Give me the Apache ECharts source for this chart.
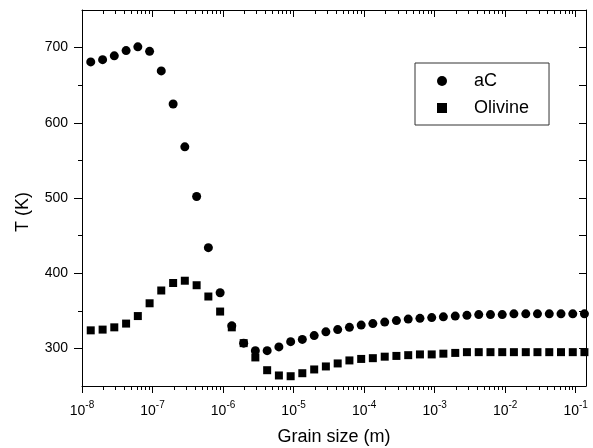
<!DOCTYPE html>
<html>
<head>
<meta charset="utf-8">
<script src="https://cdn.jsdelivr.net/npm/echarts@6/dist/echarts.min.js"></script>
<style>html,body{margin:0;padding:0;background:#fff}#c{width:593px;height:448px}</style>
</head>
<body>
<div id="c"></div>
<script>
// Grain size (m)
var grainSize = [
  1.33e-8, 1.96e-8, 2.87e-8, 4.22e-8, 6.19e-8, 9.09e-8,
  1.33e-7, 1.96e-7, 2.87e-7, 4.22e-7, 6.19e-7, 9.09e-7,
  1.33e-6, 1.96e-6, 2.87e-6, 4.22e-6, 6.19e-6, 9.09e-6,
  1.33e-5, 1.96e-5, 2.87e-5, 4.22e-5, 6.19e-5, 9.09e-5,
  1.33e-4, 1.96e-4, 2.87e-4, 4.22e-4, 6.19e-4, 9.09e-4,
  1.33e-3, 1.96e-3, 2.87e-3, 4.22e-3, 6.19e-3, 9.09e-3,
  1.33e-2, 1.96e-2, 2.87e-2, 4.22e-2, 6.19e-2, 9.09e-2,
  1.33e-1
];
// T (K)
var tempAC = [681, 684, 689, 696, 701, 695, 669, 625, 568, 502, 434, 374, 330, 307, 297, 297, 302, 309, 312, 317,
  322, 325, 328, 331, 333, 335, 337, 339, 340, 341, 342, 343, 344, 345, 345, 345, 346, 346, 346, 346, 346, 346, 346];
var tempOlivine = [324, 325, 328, 333, 343, 360, 377, 387, 390, 384, 369, 349, 328, 307, 288, 271, 264, 263, 267, 272,
  276, 280, 284, 286, 287, 289, 290, 291, 292, 292, 293, 294, 295, 295, 295, 295, 295, 295, 295, 295, 295, 295, 295];
var seriesNames = ['aC', 'Olivine'];
// Tick values
var xMajorTicks = [1e-8, 1e-7, 1e-6, 1e-5, 1e-4, 1e-3, 1e-2, 1e-1];
var xMinorMantissas = [2, 3, 4, 5, 6, 7, 8, 9];
var yMajorTicks = [300, 400, 500, 600, 700];
var yMinorTicks = [350, 450, 550, 650];
var yRightTicks = [300, 350, 400, 450, 500, 550, 600, 650, 700];

var xMinorTicks = [];
xMajorTicks.slice(0, 7).forEach(function (d) {
  xMinorMantissas.forEach(function (m) { xMinorTicks.push(parseFloat((m * d).toPrecision(3))); });
});

var FONT = 'Liberation Sans, Arial, Helvetica, sans-serif';
var X_MIN = 1e-8, X_MAX = 0.14, Y_MIN = 250, Y_MAX = 750;

function pairs(ys) { return grainSize.map(function (x, i) { return [x, ys[i]]; }); }

function xAxisBase(pos, ticks, len, inside, showLine, showLabel) {
  return {
    type: 'log', logBase: 10, min: X_MIN, max: X_MAX, position: pos,
    splitLine: { show: false },
    axisLine: { show: showLine, onZero: false, lineStyle: { color: '#000', width: 1 } },
    axisTick: { show: true, inside: inside, length: len, customValues: ticks, lineStyle: { color: '#000', width: 1 } },
    axisLabel: showLabel ? {
      customValues: xMajorTicks,
      margin: 14,
      fontFamily: FONT, color: '#000',
      formatter: function (v) {
        var e = Math.round(Math.log10(v));
        return '{b|10}{s|' + e + '}';
      },
      rich: {
        b: { fontSize: 14, fontFamily: FONT, color: '#000', lineHeight: 18, verticalAlign: 'bottom' },
        s: { fontSize: 10, fontFamily: FONT, color: '#000', lineHeight: 18, verticalAlign: 'top', padding: [0, 0, 6, 0] }
      }
    } : { show: false }
  };
}

function yAxisBase(pos, ticks, len, inside, showLine, showLabel) {
  return {
    type: 'value', min: Y_MIN, max: Y_MAX, interval: 50, position: pos,
    splitLine: { show: false },
    axisLine: { show: showLine, onZero: false, lineStyle: { color: '#000', width: 1 } },
    axisTick: { show: true, inside: inside, length: len, customValues: ticks, lineStyle: { color: '#000', width: 1 } },
    axisLabel: showLabel ? { customValues: yMajorTicks, margin: 14, fontSize: 14, fontFamily: FONT, color: '#000' } : { show: false }
  };
}

var xAxes = [
  xAxisBase('bottom', xMajorTicks, 7, false, true, true),
  xAxisBase('bottom', xMinorTicks, 4, false, false, false),
  xAxisBase('top', xMajorTicks, 7, true, true, false),
  xAxisBase('top', xMinorTicks, 4, true, false, false)
];
xAxes[0].name = 'Grain size (m)';
xAxes[0].nameLocation = 'middle';
xAxes[0].nameGap = 42;
xAxes[0].nameTextStyle = { fontSize: 18, fontFamily: FONT, color: '#000' };

var yAxes = [
  yAxisBase('left', yMajorTicks, 8, false, true, true),
  yAxisBase('left', yMinorTicks, 4, false, false, false),
  yAxisBase('right', yRightTicks, 7, true, true, false)
];
yAxes[0].name = 'T (K)';
yAxes[0].nameLocation = 'middle';
yAxes[0].nameGap = 50;
yAxes[0].nameTextStyle = { fontSize: 18, fontFamily: FONT, color: '#000', padding: [0, 28, 0, 0] };

var chart = echarts.init(document.getElementById('c'), null, { renderer: 'canvas' });
chart.setOption({
  animation: false,
  backgroundColor: '#fff',
  grid: { left: 82, right: 7, top: 10, bottom: 62, containLabel: false, outerBoundsMode: 'none' },
  legend: {
    orient: 'vertical', left: 415, top: 63,
    data: [{ name: seriesNames[0], icon: 'circle' }, { name: seriesNames[1], icon: 'rect' }],
    itemWidth: 10, itemHeight: 10, itemGap: 9,
    borderColor: '#333', borderWidth: 1,
    padding: [9, 20, 8, 22],
    textStyle: { fontSize: 18, fontFamily: FONT, color: '#000', padding: [0, 0, 0, 22] }
  },
  xAxis: xAxes,
  yAxis: yAxes,
  series: [
    { name: seriesNames[0], type: 'scatter', xAxisIndex: 0, yAxisIndex: 0, symbol: 'circle', symbolSize: 9,
      itemStyle: { color: '#000', opacity: 1 }, data: pairs(tempAC) },
    { name: seriesNames[1], type: 'scatter', xAxisIndex: 0, yAxisIndex: 0, symbol: 'rect', symbolSize: 8,
      itemStyle: { color: '#000', opacity: 1 }, data: pairs(tempOlivine) }
  ]
});
</script>
</body>
</html>
